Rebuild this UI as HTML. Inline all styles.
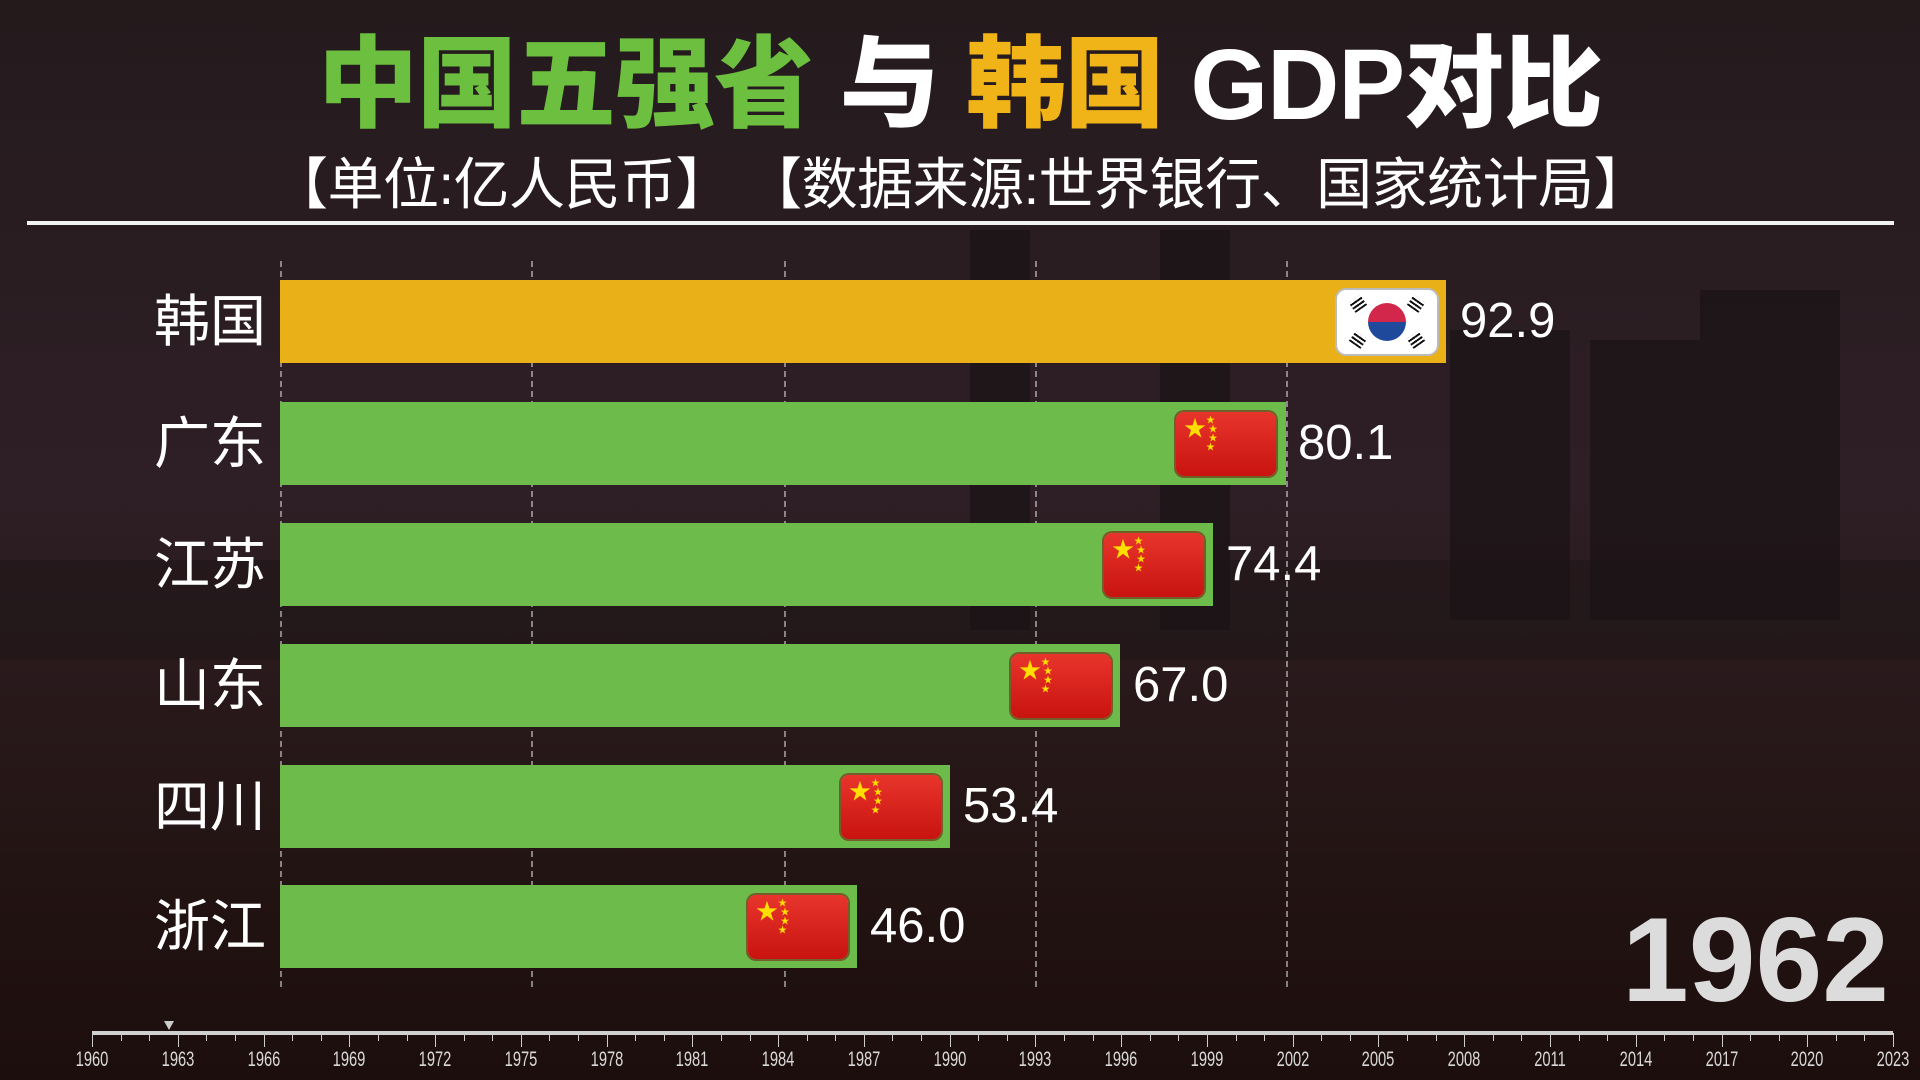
<!DOCTYPE html>
<html><head><meta charset="utf-8"><style>
*{margin:0;padding:0;box-sizing:border-box}
body{width:1920px;height:1080px;overflow:hidden;position:relative;font-family:"Liberation Sans","Noto Sans CJK SC",sans-serif;
background:linear-gradient(180deg,#241a1c 0%,#2a1d22 25%,#2e1f26 45%,#2a1a1d 60%,#231414 80%,#1c0e0c 100%);}
.bld{position:absolute;background:#1a1315;opacity:.7}
.t{position:absolute;white-space:nowrap}
.title{left:318px;top:20px;font-size:100px;font-weight:900;line-height:130px;letter-spacing:-1px}
.sub{left:272px;top:150px;font-size:56px;color:#fff;line-height:70px;letter-spacing:-0.5px}
.hr{position:absolute;left:27px;top:221px;width:1867px;height:4px;background:#f2f2f2}
.grid{position:absolute;top:261px;height:726px;border-left:2px dashed rgba(220,220,220,.55)}
.bar{position:absolute;left:280px;height:83px}
.lab{position:absolute;right:1654px;font-size:56px;color:#fff;line-height:83px}
.val{position:absolute;font-size:49px;color:#fff;line-height:83px}
.flag{position:absolute;width:100px;height:64px;border-radius:8px;background:linear-gradient(180deg,#e8352c,#c8130f);box-shadow:0 0 0 2px rgba(120,30,20,.6)}
.flag span{position:absolute;color:#ffde00;line-height:1}
.year{position:absolute;left:1622px;top:900px;font-size:120px;font-weight:bold;color:#dcdcdc;line-height:120px}
.tl{position:absolute;left:92px;top:1031px;width:1801px;height:4px;background:#d0d0d0}
.tick{position:absolute;top:1033px;width:1px;background:#ccc}
.yl{position:absolute;top:1048px;font-size:21px;color:#d8d8d8;transform:translateX(-50%) scaleX(.7)}
</style></head><body>
<div class="bld" style="left:1700px;top:290px;width:140px;height:330px"></div>
<div class="bld" style="left:1590px;top:340px;width:110px;height:280px"></div>
<div class="bld" style="left:1450px;top:330px;width:120px;height:290px"></div>
<div class="bld" style="left:970px;top:230px;width:60px;height:400px"></div>
<div class="bld" style="left:1160px;top:230px;width:70px;height:400px"></div>
<div class="bld" style="left:0;top:560px;width:1920px;height:100px;opacity:.4"></div>

<div class="t title"><span style="color:#6cbf3f">中国五强省</span> <span style="color:#fff">与</span> <span style="color:#f0b419">韩国</span> <span style="color:#fff">GDP对比</span></div>
<div class="t sub">【单位:亿人民币】 【数据来源:世界银行、国家统计局】</div>
<div class="hr"></div>

<div class="grid" style="left:280px"></div>
<div class="grid" style="left:531px"></div>
<div class="grid" style="left:784px"></div>
<div class="grid" style="left:1035px"></div>
<div class="grid" style="left:1286px"></div>

<div class="bar" style="top:280px;width:1166px;background:#e9b117"></div>
<div class="lab" style="top:280px">韩国</div>
<div style="position:absolute;left:1337px;top:290px;width:100px;height:64px;border-radius:9px;background:#fff;box-shadow:0 0 0 2px #bbb">
<div style="position:absolute;left:31px;top:13px;width:38px;height:38px;border-radius:50%;background:linear-gradient(180deg,#d2264a 50%,#1f4a9c 50%)"></div>
<div style="position:absolute;left:14px;top:8px;width:14px;height:12px;background:repeating-linear-gradient(0deg,#111 0 2px,transparent 2px 4px);transform:rotate(-35deg)"></div>
<div style="position:absolute;left:72px;top:8px;width:14px;height:12px;background:repeating-linear-gradient(0deg,#111 0 2px,transparent 2px 4px);transform:rotate(35deg)"></div>
<div style="position:absolute;left:14px;top:44px;width:14px;height:12px;background:repeating-linear-gradient(0deg,#111 0 2px,transparent 2px 4px);transform:rotate(35deg)"></div>
<div style="position:absolute;left:72px;top:44px;width:14px;height:12px;background:repeating-linear-gradient(0deg,#111 0 2px,transparent 2px 4px);transform:rotate(-35deg)"></div>
</div>
<div class="val" style="left:1460px;top:280px">92.9</div>

<div class="bar" style="top:402px;width:1006px;background:#6dbb4a"></div>
<div class="lab" style="top:402px">广东</div>
<div class="flag" style="left:1176px;top:412px"><span style="left:8px;top:6px;font-size:22px">★</span><span style="left:30px;top:4px;font-size:9px">★<br>&nbsp;★<br>&nbsp;★<br>★</span></div>
<div class="val" style="left:1298px;top:402px">80.1</div>

<div class="bar" style="top:523px;width:933px;background:#6dbb4a"></div>
<div class="lab" style="top:523px">江苏</div>
<div class="flag" style="left:1104px;top:533px"><span style="left:8px;top:6px;font-size:22px">★</span><span style="left:30px;top:4px;font-size:9px">★<br>&nbsp;★<br>&nbsp;★<br>★</span></div>
<div class="val" style="left:1226px;top:523px">74.4</div>

<div class="bar" style="top:644px;width:840px;background:#6dbb4a"></div>
<div class="lab" style="top:644px">山东</div>
<div class="flag" style="left:1011px;top:654px"><span style="left:8px;top:6px;font-size:22px">★</span><span style="left:30px;top:4px;font-size:9px">★<br>&nbsp;★<br>&nbsp;★<br>★</span></div>
<div class="val" style="left:1133px;top:644px">67.0</div>

<div class="bar" style="top:765px;width:670px;background:#6dbb4a"></div>
<div class="lab" style="top:765px">四川</div>
<div class="flag" style="left:841px;top:775px"><span style="left:8px;top:6px;font-size:22px">★</span><span style="left:30px;top:4px;font-size:9px">★<br>&nbsp;★<br>&nbsp;★<br>★</span></div>
<div class="val" style="left:963px;top:765px">53.4</div>

<div class="bar" style="top:885px;width:577px;background:#6dbb4a"></div>
<div class="lab" style="top:885px">浙江</div>
<div class="flag" style="left:748px;top:895px"><span style="left:8px;top:6px;font-size:22px">★</span><span style="left:30px;top:4px;font-size:9px">★<br>&nbsp;★<br>&nbsp;★<br>★</span></div>
<div class="val" style="left:870px;top:885px">46.0</div>

<div class="year">1962</div>

<div class="tl"></div>
<div style="position:absolute;left:164px;top:1021px;width:0;height:0;border-left:5px solid transparent;border-right:5px solid transparent;border-top:9px solid #ccc"></div>
<div id="ticks"></div>
<script>
var h='';for(var y=1960;y<=2023;y++){var x=92+(y-1960)*1801/63;var big=(y-1960)%3==0||y==2023;
h+='<div class="tick" style="left:'+x.toFixed(1)+'px;height:'+(big?14:8)+'px"></div>';
if(big)h+='<div class="yl" style="left:'+x.toFixed(1)+'px">'+y+'</div>';}
document.getElementById('ticks').innerHTML=h;
</script>
</body></html>
